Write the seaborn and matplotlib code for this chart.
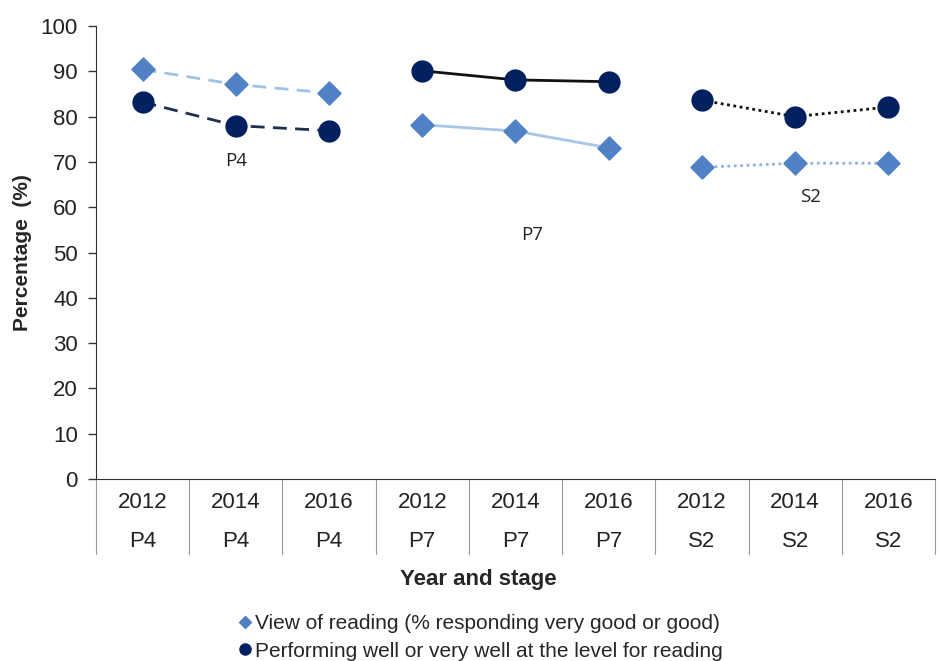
import matplotlib
matplotlib.use("Agg")
import matplotlib.pyplot as plt
import matplotlib.transforms as mtransforms
from matplotlib.lines import Line2D
import seaborn as sns
import pandas as pd

# data
years = ["2012", "2014", "2016"]
stages = ["P4", "P7", "S2"]
view_p4 = [90.4, 87.1, 85.2]
view_p7 = [78.2, 76.8, 73.1]
view_s2 = [68.8, 69.7, 69.7]
perf_p4 = [83.2, 78.0, 76.9]
perf_p7 = [90.1, 88.1, 87.7]
perf_s2 = [83.6, 80.0, 82.1]
y_ticks = list(range(0, 101, 10))

view_label = "View of reading (% responding very good or good)"
perf_label = "Performing well or very well at the level for reading"

rows = []
for si, (st, v, p) in enumerate(zip(stages, [view_p4, view_p7, view_s2], [perf_p4, perf_p7, perf_s2])):
    for yi, yr in enumerate(years):
        x = si * 3 + yi
        rows.append({"x": x, "year": yr, "stage": st, "series": "view", "value": v[yi]})
        rows.append({"x": x, "year": yr, "stage": st, "series": "perf", "value": p[yi]})
df = pd.DataFrame(rows)

sns.set_style("white")
plt.rcParams["font.family"] = ["Liberation Sans", "DejaVu Sans"]

fig = plt.figure(figsize=(9.39, 6.61), dpi=100)
ax = fig.add_axes([0.1022, 0.2753, 0.8935, 0.6854])

diamond_c = "#4f81c4"
circle_c = "#002060"
line_styles = {"P4": (0, (5, 3)), "P7": "-", "S2": (0, (1, 1.3))}
view_line = {"P4": "#9dc3e6", "P7": "#a9c6e8", "S2": "#8fb4e0"}
perf_line = {"P4": "#1f2f4f", "P7": "#111111", "S2": "#111111"}

for st in stages:
    d = df[df["stage"] == st]
    dv = d[d["series"] == "view"]
    dp = d[d["series"] == "perf"]
    sns.lineplot(data=dv, x="x", y="value", ax=ax, color=view_line[st],
                 linestyle=line_styles[st], linewidth=2, zorder=2)
    sns.lineplot(data=dp, x="x", y="value", ax=ax, color=perf_line[st],
                 linestyle=line_styles[st], linewidth=2, zorder=2)
    sns.scatterplot(data=dv, x="x", y="value", ax=ax, marker="D", s=140,
                    color=diamond_c, edgecolor=diamond_c, zorder=3)
    sns.scatterplot(data=dp, x="x", y="value", ax=ax, marker="o", s=220,
                    color=circle_c, edgecolor=circle_c, zorder=3)

ax.set_xlim(-0.5, 8.5)
ax.set_ylim(0, 100)
ax.set_yticks(y_ticks)
ax.set_yticklabels([str(t) for t in y_ticks], fontsize=16, color="#222222")
ax.tick_params(axis="y", direction="out", length=6, width=1, color="#333333", pad=7, left=True)
ax.set_xticks([])
ax.set_xlabel("")
ax.set_ylabel("Percentage  (%)", fontsize=15, fontweight="bold", labelpad=6)
sns.despine(ax=ax)
ax.spines["left"].set_color("#333333")
ax.spines["bottom"].set_color("#333333")

# two-row category labels with separators
trans = mtransforms.blended_transform_factory(ax.transData, ax.transAxes)
px = 1 / (0.6854 * 661)
for i in range(9):
    ax.text(i, -23 * px, years[i % 3], transform=trans, ha="center", va="center",
            fontsize=16, color="#222222")
    ax.text(i, -62 * px, stages[i // 3], transform=trans, ha="center", va="center",
            fontsize=16, color="#222222")
for b in range(10):
    ax.add_line(Line2D([b - 0.5, b - 0.5], [0, -75 * px], transform=trans,
                       color="#999999", linewidth=0.8, clip_on=False))
ax.text(3.6, -100 * px, "Year and stage", transform=trans, ha="center", va="center",
        fontsize=16, fontweight="bold")

# stray data labels left on the chart
ax.text(1, 70.3, "P4", ha="center", va="center", fontsize=13.5, family=["Open Sans", "DejaVu Sans"], color="#222222")
ax.text(4.18, 53.8, "P7", ha="center", va="center", fontsize=13.5, family=["Open Sans", "DejaVu Sans"], color="#222222")
ax.text(7.17, 62.2, "S2", ha="center", va="center", fontsize=13.5, family=["Open Sans", "DejaVu Sans"], color="#222222")

handles = [
    Line2D([], [], marker="D", color=diamond_c, linestyle="none", markersize=6),
    Line2D([], [], marker="o", color=circle_c, linestyle="none", markersize=8),
]
fig.legend(handles, [view_label, perf_label], loc="upper left",
           bbox_to_anchor=(228 / 939, 1 - 604 / 661), frameon=False, fontsize=15,
           handlelength=0.6, handletextpad=0.2, labelspacing=0.4, borderpad=0)

fig.savefig("out.png", dpi=100)
